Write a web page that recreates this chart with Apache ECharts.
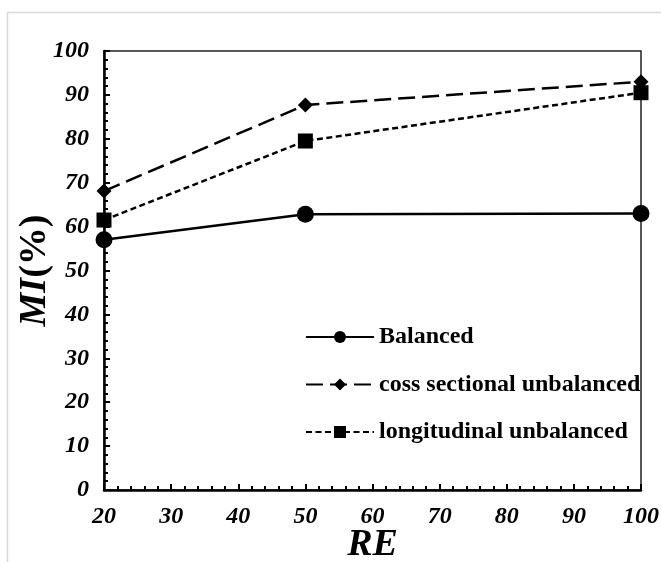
<!DOCTYPE html>
<html>
<head>
<meta charset="utf-8">
<script src="https://cdn.jsdelivr.net/npm/echarts@6/dist/echarts.min.js"></script>
<style>
  html, body { margin: 0; padding: 0; background: #fff; }
  #chart { width: 661px; height: 562px; }
</style>
</head>
<body>
<div id="chart"></div>
<script>
// RE values on the x axis
const reValues = [20, 50, 100];
// MI (%) for each design
const balanced = [57.0, 62.8, 63.0];
const crossSectional = [68.1, 87.7, 93.0];
const longitudinal = [61.5, 79.5, 90.5];
const seriesNames = ['Balanced', 'coss sectional unbalanced', 'longitudinal unbalanced'];

const pairs = (ys) => reValues.map((x, i) => [x, ys[i]]);

const serif = 'Liberation Serif, Times New Roman, serif';
const tickFont = { fontFamily: serif, fontWeight: 'bold', fontStyle: 'italic', fontSize: 24, color: '#000' };

const chart = echarts.init(document.getElementById('chart'), null, { renderer: 'canvas' });

chart.setOption({
  backgroundColor: '#fff',
  animation: false,
  graphic: [{
    type: 'rect',
    z: -10,
    shape: { x: 7.5, y: 12.5, width: 700, height: 600 },
    style: { fill: 'none', stroke: '#d9d9d9', lineWidth: 1.5 }
  }],
  grid: {
    left: 104, right: 20, top: 51, bottom: 72,
    containLabel: false, outerBoundsMode: 'none',
    show: true, borderColor: '#222', borderWidth: 1.5, backgroundColor: 'transparent'
  },
  legend: {
    orient: 'vertical',
    left: 300, top: 320,
    itemWidth: 68, itemHeight: 15, itemGap: 23.5,
    data: seriesNames,
    textStyle: { fontFamily: serif, fontWeight: 'bold', fontSize: 24, color: '#000' }
  },
  xAxis: {
    type: 'value', min: 20, max: 100, interval: 10,
    name: 'RE', nameLocation: 'middle', nameGap: 36, nameMoveOverlap: false,
    nameTextStyle: { fontFamily: serif, fontWeight: 'bold', fontStyle: 'italic', fontSize: 38, color: '#000' },
    axisLine: { show: true, onZero: false, lineStyle: { color: '#000', width: 2.5 } },
    axisTick: { show: true, inside: true, length: 6, lineStyle: { color: '#000', width: 2 } },
    minorTick: { show: true, splitNumber: 5, length: 4, lineStyle: { color: '#000', width: 2 } },
    splitLine: { show: false },
    axisLabel: Object.assign({ margin: 15 }, tickFont)
  },
  yAxis: {
    type: 'value', min: 0, max: 100, interval: 10,
    name: '{mi|MI}{pc|(%)}', nameLocation: 'middle', nameGap: 50, nameRotate: 90, nameMoveOverlap: false,
    nameTextStyle: {
      color: '#000',
      rich: {
        mi: { fontFamily: serif, fontWeight: 'bold', fontStyle: 'italic', fontSize: 38, color: '#000' },
        pc: { fontFamily: serif, fontWeight: 'bold', fontSize: 38, color: '#000' }
      }
    },
    axisLine: { show: true, onZero: false, lineStyle: { color: '#000', width: 2.5 } },
    axisTick: { show: true, inside: true, length: 6, lineStyle: { color: '#000', width: 2 } },
    minorTick: { show: true, splitNumber: 5, length: 4, lineStyle: { color: '#000', width: 2 } },
    splitLine: { show: false },
    axisLabel: Object.assign({ margin: 15 }, tickFont)
  },
  series: [
    {
      name: seriesNames[0], type: 'line', data: pairs(balanced), clip: false,
      symbol: 'circle', symbolSize: 17,
      itemStyle: { color: '#000' },
      lineStyle: { color: '#000', width: 2.5, type: 'solid' }
    },
    {
      name: seriesNames[1], type: 'line', data: pairs(crossSectional), clip: false,
      symbol: 'diamond', symbolSize: [15, 15],
      itemStyle: { color: '#000' },
      lineStyle: { color: '#000', width: 2.5, type: [17, 7] }
    },
    {
      name: seriesNames[2], type: 'line', data: pairs(longitudinal), clip: false,
      symbol: 'rect', symbolSize: 15,
      itemStyle: { color: '#000' },
      lineStyle: { color: '#000', width: 2.5, type: [6, 3.5] }
    }
  ]
});
</script>
</body>
</html>
